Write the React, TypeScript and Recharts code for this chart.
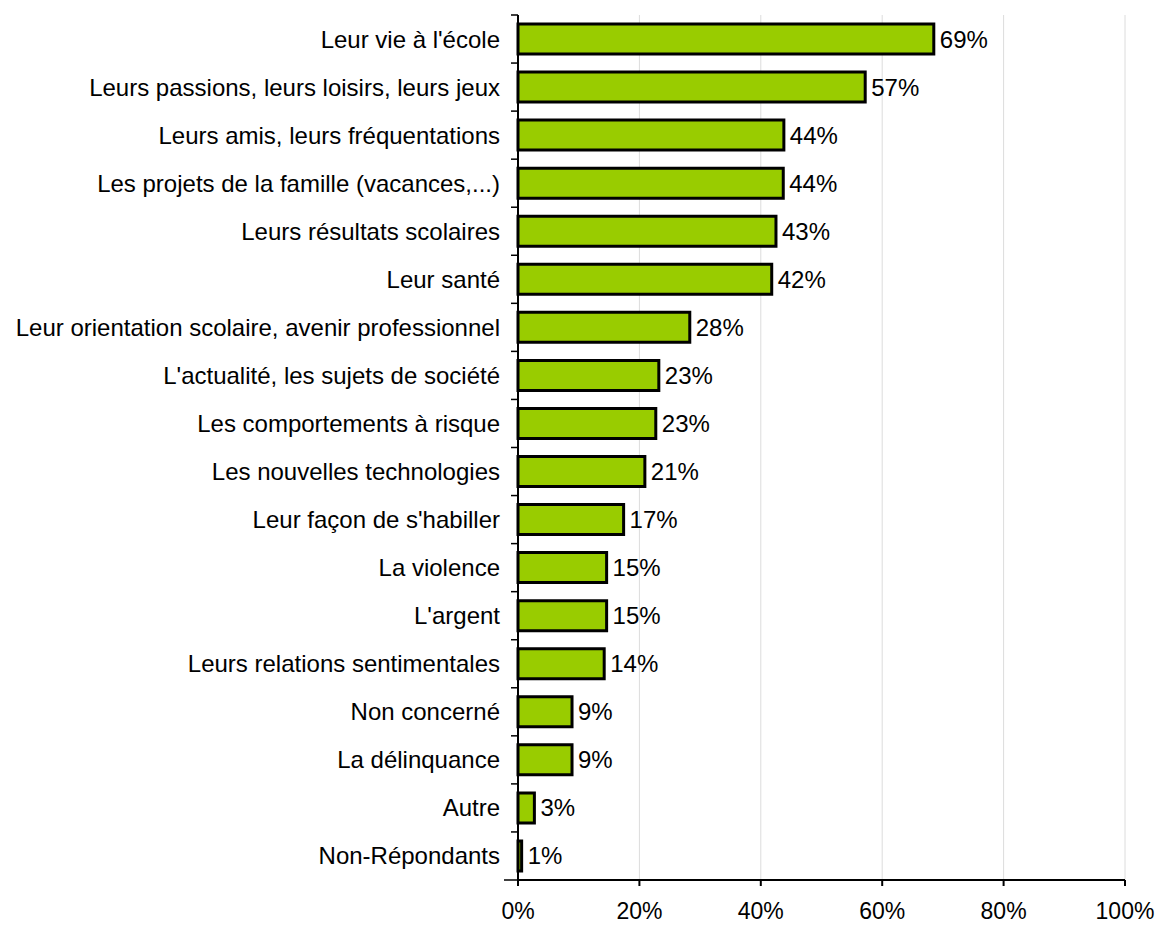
import React from "react";
import { BarChart, Bar, XAxis, YAxis, CartesianGrid, LabelList } from "recharts";

const categories = [
  "Leur vie à l'école",
  "Leurs passions, leurs loisirs, leurs jeux",
  "Leurs amis, leurs fréquentations",
  "Les projets de la famille (vacances,...)",
  "Leurs résultats scolaires",
  "Leur santé",
  "Leur orientation scolaire, avenir professionnel",
  "L'actualité, les sujets de société",
  "Les comportements à risque",
  "Les nouvelles technologies",
  "Leur façon de s'habiller",
  "La violence",
  "L'argent",
  "Leurs relations sentimentales",
  "Non concerné",
  "La délinquance",
  "Autre",
  "Non-Répondants",
];

const values = [68.5, 57.2, 43.8, 43.7, 42.5, 41.8, 28.3, 23.2, 22.7, 20.9, 17.4, 14.6, 14.6, 14.2, 8.9, 8.9, 2.7, 0.6];

const xTicks = [0, 20, 40, 60, 80, 100];

const data = categories.map((name, i) => ({ name, value: values[i] }));

const FONT = "'Liberation Sans', Arial, sans-serif";
const W = 1150;
const H = 917;
const M = { top: 7, right: 33, bottom: 5, left: 0 };
const X_AXIS_H = 40;
const Y_AXIS_W = 510;
const band = (H - M.top - M.bottom - X_AXIS_H) / categories.length;

const YTick = (props: any) => {
  const { x, y, payload, index } = props;
  return (
    <g>
      <line x1={x - 7} x2={x} y1={y - band / 2} y2={y - band / 2} stroke="#000" strokeWidth={1.5} />
      {index === categories.length - 1 && (
        <line x1={x - 14} x2={x} y1={y + band / 2} y2={y + band / 2} stroke="#000" strokeWidth={1.5} />
      )}
      <text x={x - 18} y={y} textAnchor="end" dominantBaseline="central" fontSize={24} fontFamily={FONT} fill="#000">
        {payload.value}
      </text>
    </g>
  );
};

export default function App() {
  return (
    <div style={{ padding: "8px 0 0 8px", width: 1150 }}>
      <style>{"html,body{overflow:hidden;margin:0} svg.recharts-surface{overflow:visible}"}</style>
      <BarChart width={W} height={H} data={data} layout="vertical" margin={M} barSize={30}>
        <CartesianGrid horizontal={false} vertical={true} stroke="#dcdcdc" strokeWidth={1} />
        <XAxis
          type="number"
          domain={[0, 100]}
          ticks={xTicks}
          tickFormatter={(v: number) => `${v}%`}
          height={X_AXIS_H}
          axisLine={{ stroke: "#000", strokeWidth: 2 }}
          tickLine={{ stroke: "#000", strokeWidth: 2 }}
          tickSize={6}
          tickMargin={17}
          tick={{ fontSize: 23, fontFamily: FONT, fill: "#000" }}
          interval={0}
        />
        <YAxis
          type="category"
          dataKey="name"
          width={Y_AXIS_W}
          axisLine={{ stroke: "#000", strokeWidth: 2 }}
          tickLine={false}
          tickSize={0}
          tickMargin={0}
          tick={<YTick />}
          interval={0}
        />
        <Bar dataKey="value" fill="#99CC00" stroke="#000" strokeWidth={3} isAnimationActive={false}>
          <LabelList
            dataKey="value"
            position="right"
            offset={6}
            formatter={(v: any) => `${Math.round(Number(v))}%`}
            style={{ fontSize: 24, fontFamily: FONT, fill: "#000" }}
          />
        </Bar>
      </BarChart>
    </div>
  );
}
